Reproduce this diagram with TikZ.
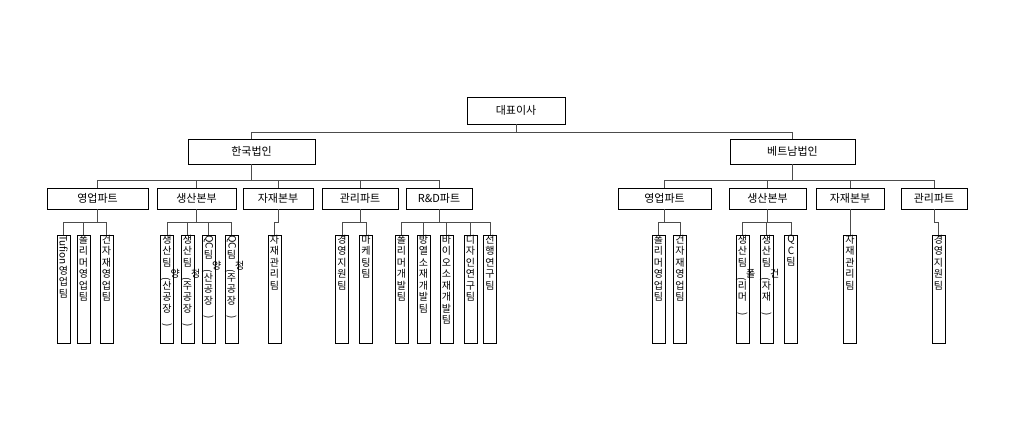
\documentclass[tikz,border=0pt]{standalone}
\usepackage{fontspec}
\setmainfont{Noto Sans CJK KR}
\usetikzlibrary{positioning}
\tikzstyle{box} = [rectangle, draw=black, fill=white, font=\fontsize{11}{12}\selectfont, inner sep=0pt]
\tikzstyle{team} = [rectangle, draw=black, fill=white, anchor=north, inner sep=0pt,
                    font=\fontsize{10}{11.5}\selectfont]
\tikzstyle{line} = [draw=black!70, line width=0.7pt]
\newcommand{\vtxt}[1]{\parbox[t][108pt][t]{13pt}{\centering\lineskiplimit=-5pt\baselineskip=11.5pt #1}}
\newcommand{\rt}[1]{\rotatebox{-90}{#1}}

\begin{document}
\begin{tikzpicture}[x=1pt, y=-1pt]
    \useasboundingbox (0,0) rectangle (1014,443);

    % top
    \node (ceo) [box, minimum width=98, minimum height=27] at (516,110.5) {대표이사};
    \node (kr) [box, minimum width=127, minimum height=25] at (251.5,151.5) {한국법인};
    \node (vn) [box, minimum width=125, minimum height=25] at (792.5,151.5) {베트남법인};

    % korea parts
    \node (krSales) [box, minimum width=101, minimum height=21] at (97.5,198.5) {영업파트};
    \node (krProd) [box, minimum width=79, minimum height=21] at (196.5,198.5) {생산본부};
    \node (krMat) [box, minimum width=70, minimum height=21] at (278,198.5) {자재본부};
    \node (krMgmt) [box, minimum width=76, minimum height=21] at (360,198.5) {관리파트};
    \node (krRD) [box, minimum width=66, minimum height=21] at (439,198.5) {R\&D파트};

    % vietnam parts
    \node (vnSales) [box, minimum width=93, minimum height=21] at (664.5,198.5) {영업파트};
    \node (vnProd) [box, minimum width=77, minimum height=21] at (767.5,198.5) {생산본부};
    \node (vnMat) [box, minimum width=68, minimum height=21] at (850,198.5) {자재본부};
    \node (vnMgmt) [box, minimum width=66, minimum height=21] at (934,198.5) {관리파트};

    % korea teams
    \node (t1) [team] at (63.5,235) {\vtxt{\rt{Tufion}\\영\\업\\팀}};
    \node (t2) [team] at (83.5,235) {\vtxt{폴\\리\\머\\영\\업\\팀}};
    \node (t3) [team] at (106.5,235) {\vtxt{건\\자\\재\\영\\업\\팀}};
    \node (t4) [team] at (167,235) {\vtxt{생\\산\\팀\\\rt{(}양\\산\\공\\장\\\rt{)}}};
    \node (t5) [team] at (187.5,235) {\vtxt{생\\산\\팀\\\rt{(}청\\주\\공\\장\\\rt{)}}};
    \node (t6) [team] at (208.5,235) {\vtxt{\rt{QC}\\팀\\\rt{(}양\\산\\공\\장\\\rt{)}}};
    \node (t7) [team] at (231.5,235) {\vtxt{\rt{QC}\\팀\\\rt{(}청\\주\\공\\장\\\rt{)}}};
    \node (t8) [team] at (274.5,235) {\vtxt{자\\재\\관\\리\\팀}};
    \node (t9) [team] at (342,235) {\vtxt{경\\영\\지\\원\\팀}};
    \node (t10) [team] at (366,235) {\vtxt{마\\케\\팅\\팀}};
    \node (t11) [team] at (401.5,235) {\vtxt{폴\\리\\머\\개\\발\\팀}};
    \node (t12) [team] at (423.5,235) {\vtxt{방\\열\\소\\재\\개\\발\\팀}};
    \node (t13) [team] at (446.5,235) {\vtxt{바\\이\\오\\소\\재\\개\\발\\팀}};
    \node (t14) [team] at (470.5,235) {\vtxt{디\\자\\인\\연\\구\\팀}};
    \node (t15) [team] at (490,235) {\vtxt{선\\행\\연\\구\\팀}};

    % vietnam teams
    \node (v1) [team] at (658.5,235) {\vtxt{폴\\리\\머\\영\\업\\팀}};
    \node (v2) [team] at (680,235) {\vtxt{건\\자\\재\\영\\업\\팀}};
    \node (v3) [team] at (742.5,235) {\vtxt{생\\산\\팀\\\rt{(}폴\\리\\머\\\rt{)}}};
    \node (v4) [team] at (766.5,235) {\vtxt{생\\산\\팀\\\rt{(}건\\자\\재\\\rt{)}}};
    \node (v5) [team] at (791,235) {\vtxt{Q\\C\\팀}};
    \node (v6) [team] at (850,235) {\vtxt{자\\재\\관\\리\\팀}};
    \node (v7) [team] at (938.5,235) {\vtxt{경\\영\\지\\원\\팀}};

    % connectors
    \foreach \c in {kr,vn}
        \draw [line] (ceo.south) |- ++(0,8) -| (\c.north);
    \foreach \c in {krSales,krProd,krMat,krMgmt,krRD}
        \draw [line] (kr.south) |- ++(0,16) -| (\c.north);
    \foreach \c in {vnSales,vnProd,vnMat,vnMgmt}
        \draw [line] (vn.south) |- ++(0,16) -| (\c.north);
    \foreach \p/\c in {krSales/t1,krSales/t2,krSales/t3,krProd/t4,krProd/t5,krProd/t6,krProd/t7,
                       krMat/t8,krMgmt/t9,krMgmt/t10,krRD/t11,krRD/t12,krRD/t13,krRD/t14,krRD/t15,
                       vnSales/v1,vnSales/v2,vnProd/v3,vnProd/v4,vnProd/v5,vnMat/v6,vnMgmt/v7}
        \draw [line] (\p.south) |- ++(0,13) -| (\c.north);

\end{tikzpicture}
\end{document}
